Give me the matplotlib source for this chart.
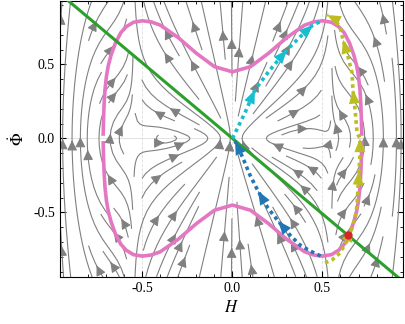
import numpy as np
import matplotlib
matplotlib.use("Agg")
import matplotlib.pyplot as plt
from matplotlib.ticker import MultipleLocator, FormatStrFormatter

plt.rcParams["font.family"] = ["Liberation Serif", "DejaVu Serif"]
plt.rcParams["mathtext.fontset"] = "stix"

# constraint curve, upper-right quarter (mirrored for the full loop)
pink_h = [0.0, 0.1, 0.2, 0.3, 0.4, 0.45, 0.5, 0.55, 0.59, 0.62, 0.65, 0.675, 0.69, 0.70, 0.708, 0.713, 0.716, 0.718]
pink_phi = [0.45, 0.485, 0.575, 0.68, 0.765, 0.787, 0.795, 0.785, 0.755, 0.715, 0.645, 0.56, 0.49, 0.42, 0.33, 0.23, 0.13, 0.03]

# straight line through the origin
green_h = [-1.0, 1.0]
green_phi = [1.02, -1.02]

# trajectories
cyan_h = [0.0, 0.069, 0.125, 0.208, 0.303, 0.375, 0.447, 0.497]
cyan_phi = [0.0, 0.172, 0.328, 0.463, 0.598, 0.686, 0.767, 0.794]

blue_h = [0.49, 0.431, 0.375, 0.319, 0.253, 0.197, 0.142, 0.097, 0.058, 0.014]
blue_phi = [-0.794, -0.76, -0.72, -0.652, -0.557, -0.47, -0.355, -0.247, -0.132, -0.017]

yellow_h = [0.514, 0.553, 0.597, 0.636, 0.664, 0.681, 0.692, 0.697, 0.703, 0.708, 0.708,
            0.692, 0.681, 0.669, 0.664, 0.642, 0.614, 0.597, 0.558, 0.525]
yellow_phi = [-0.841, -0.821, -0.774, -0.693, -0.605, -0.537, -0.449, -0.334, -0.22, -0.111, 0.0,
              0.037, 0.193, 0.328, 0.443, 0.551, 0.666, 0.753, 0.814, 0.834]

red_h = 0.64
red_phi = -0.655


def field(h, p):
    cut = 1.0 / (1.0 + (h / 0.72) ** 16)
    bump = np.exp(-((np.abs(h) - 0.47) / 0.08) ** 2 - (p / 0.12) ** 2)
    u = h * p * (1 - (h / 0.55) ** 4) * cut
    v = p ** 2 + 0.003 + (1 - cut) * 0.8 - 0.015 * bump
    return u, v


def head(ax, hs, ps, i, color):
    ax.annotate("", xy=(hs[i + 1], ps[i + 1]), xytext=(hs[i], ps[i]),
                arrowprops=dict(arrowstyle="-|>,head_length=0.55,head_width=0.22",
                                color=color, lw=0, mutation_scale=18,
                                shrinkA=0, shrinkB=0), zorder=6)


fig = plt.figure(figsize=(4.05, 3.24), dpi=100)
ax = fig.add_axes([0.1481, 0.1451, 0.8469, 0.852])

xlim = (-0.958, 0.947)
ylim = (-0.936, 0.929)

hh, pp = np.meshgrid(np.linspace(*xlim, 250), np.linspace(*ylim, 250))
uu, vv = field(hh, pp)
ax.streamplot(hh, pp, uu, vv, density=1.1, color="gray", linewidth=0.8,
              arrowsize=1.5, arrowstyle="-|>")

for x in [-0.5, 0.0, 0.5]:
    ax.axvline(x, color="#dddddd", lw=0.6, ls="--", zorder=0)
ax.axhline(0, color="#dddddd", lw=0.6, zorder=0)

full_h = [-x for x in pink_h[::-1]] + pink_h[1:]
full_phi = pink_phi[::-1] + pink_phi[1:]
ax.plot(full_h, full_phi, color="#e377c2", lw=2.6, zorder=3)
ax.plot(full_h, [-x for x in full_phi], color="#e377c2", lw=2.6, zorder=3)

ax.plot(green_h, green_phi, color="#2ca02c", lw=2.2, zorder=4)

ax.plot(cyan_h, cyan_phi, color="#17becf", lw=2.6, ls=(0, (1, 1)), zorder=5)
ax.plot(blue_h, blue_phi, color="#1f77b4", lw=2.6, ls=(0, (1, 1)), zorder=5)
ax.plot(yellow_h, yellow_phi, color="#bcbd22", lw=2.6, ls=(0, (1, 1)), zorder=5)

for i in [1, 3, 5]:
    head(ax, cyan_h, cyan_phi, i, "#17becf")
for i in [3, 5, 8]:
    head(ax, blue_h, blue_phi, i, "#1f77b4")
for i in [3, 7, 9, 12, 15, 18]:
    head(ax, yellow_h, yellow_phi, i, "#bcbd22")

ax.plot(red_h, red_phi, "o", color="#d62728", ms=5, zorder=7)

ax.set_xlim(*xlim)
ax.set_ylim(*ylim)
ax.xaxis.set_major_locator(MultipleLocator(0.5))
ax.yaxis.set_major_locator(MultipleLocator(0.5))
ax.xaxis.set_minor_locator(MultipleLocator(0.1))
ax.yaxis.set_minor_locator(MultipleLocator(0.1))
ax.xaxis.set_major_formatter(FormatStrFormatter("%.1f"))
ax.yaxis.set_major_formatter(FormatStrFormatter("%.1f"))
ax.tick_params(which="both", direction="in", top=True, right=True, labelsize=10)
ax.tick_params(which="major", length=4)
ax.tick_params(which="minor", length=2)

ax.set_xlabel(r"$H$", fontsize=12)
ax.set_ylabel(r"$\dot{\Phi}$", fontsize=12)

fig.savefig("out.png", dpi=100)
